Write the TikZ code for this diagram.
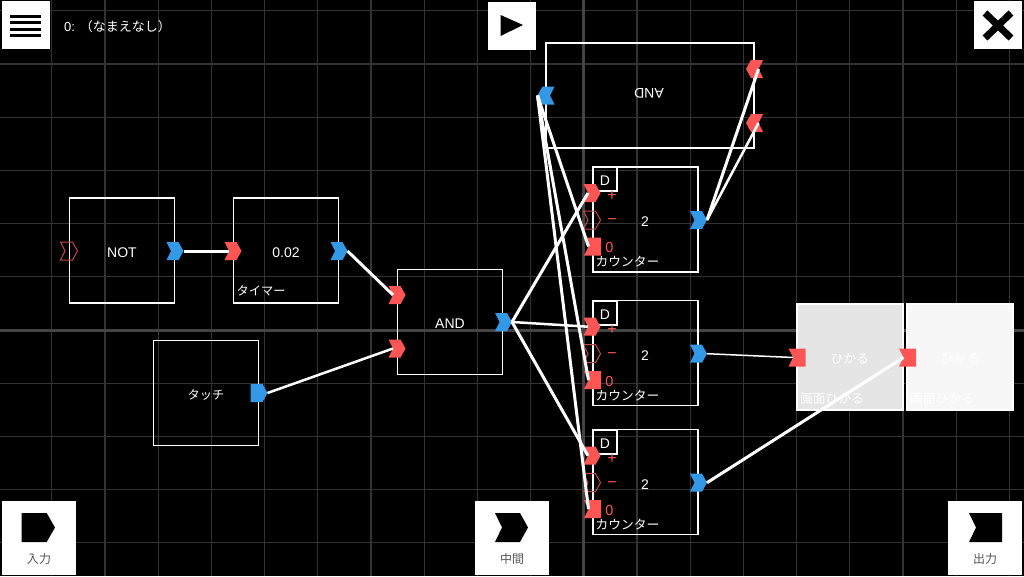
\documentclass[tikz,border=0pt]{standalone}
\usepackage{fontspec}
\setmainfont{Liberation Sans}
\newfontfamily\cjk{Noto Sans CJK JP}
\usetikzlibrary{positioning}
\definecolor{mred}{HTML}{FF5555}
\definecolor{mblue}{HTML}{3399E6}
\definecolor{mdim}{HTML}{C44848}
\definecolor{mgrid}{HTML}{333333}
\definecolor{mgridb}{HTML}{444444}
\definecolor{mtext}{HTML}{555555}
\tikzset{
  block/.style = {draw=white, line width=1.8, minimum size=105, inner sep=0, text=white, text height=13, text depth=0, font=\fontsize{14}{16}\selectfont},
  lbl/.style = {text=white, inner sep=0, font=\fontsize{12.7}{15}\selectfont\cjk},
  sign/.style = {text=mred, inner sep=0, font=\fontsize{16}{18}\selectfont},
  btn/.style = {fill=white, minimum size=48, inner sep=0},
  btnlbl/.style = {text=mtext, inner sep=0, font=\fontsize{12}{14}\selectfont\cjk},
  wire/.style = {white, line width=3},
  chevron/.pic = {\path[pic actions] (-8.5,-9) -- (3.5,-9) -- (8.5,0) -- (3.5,9) -- (-8.5,9) -- (-4,0) -- cycle;
    \coordinate (-in) at (-4,0); \coordinate (-out) at (8.5,0);},
  notched/.pic = {\path[pic actions] (-8.5,-9) -- (8.5,-9) -- (8.5,9) -- (-8.5,9) -- (-4,0) -- cycle;
    \coordinate (-in) at (-4,0);},
  pointed/.pic = {\path[pic actions] (-8.5,-9) -- (3.5,-9) -- (8.5,0) -- (3.5,9) -- (-8.5,9) -- cycle;
    \coordinate (-out) at (8.5,0);},
}

\begin{document}
\begin{tikzpicture}[x=1pt, y=-1pt]
  \useasboundingbox (0,0) rectangle (1024,576);
  \fill[black] (0,0) rectangle (1024,576);

  % grid
  \foreach \i in {0,...,18}
    \draw[mgrid, line width=1.2] ({51.7+53.2*\i},0) -- ({51.7+53.2*\i},576);
  \foreach \i in {0,...,10}
    \draw[mgrid, line width=1.2] (0,{10.7+53.2*\i}) -- (1024,{10.7+53.2*\i});
  \draw[mgridb, line width=3] (583.7,0) -- (583.7,576);
  \draw[mgridb, line width=3] (0,330) -- (1024,330);

  % blocks
  \node[block] (notblock) at (122,250.5) {NOT};
  \node[block] (timerblock) at (286,250.5) {0.02};
  \node[lbl, anchor=west, font=\fontsize{12.2}{15}\selectfont\cjk] (timerlabel) at (236.5,291) {タイマー};
  \node[block, font=\fontsize{12.2}{15}\selectfont\cjk] (touchblock) at (206,393) {タッチ};
  \node[block] (andblock) at (450,322) {AND};
  \node[block, minimum width=208, minimum height=104.5] (flipblock) at (650,95.5) {};
  \node[lbl, rotate=180, font=\fontsize{14}{16}\selectfont] (fliplabel) at (649,93) {AND};

  % counters
  \foreach \n/\t in {a/167, b/300.7, c/429.7} {
    \node[block] (count\n) at (645.5,\t+52.3) {};
    \node[block, minimum size=24] (dbox\n) at (604.8,\t+12) {D};
    \node[lbl, font=\fontsize{14}{16}\selectfont] (value\n) at (645,\t+54.5) {2};
    \node[sign] (plus\n) at (612,\t+29) {+};
    \node[sign] (minus\n) at (612,\t+55) {−};
    \node[sign, font=\fontsize{14.5}{17}\selectfont] (zero\n) at (609.5,\t+81) {0};
    \node[lbl, anchor=west] (countlabel\n) at (595.5,\t+95) {カウンター};
    \pic[fill=mred] (pin\n) at (592,\t+26) {chevron};
    \pic[draw=mdim, line width=1] (min\n) at (592,\t+53) {chevron};
    \pic[fill=mred] (zin\n) at (592.5,\t+79.5) {notched};
    \pic[fill=mblue] (cout\n) at (698.5,\t+53) {chevron};
  }

  % screen blocks
  \node[block, fill=black!10, minimum size=106, font=\fontsize{12.7}{15}\selectfont\cjk] (lighta) at (850,357) {ひかる};
  \node[block, fill=black!3, minimum size=106, font=\fontsize{12.7}{15}\selectfont\cjk] (lightb) at (960,357) {ひかる};
  \node[lbl, anchor=west] (lightlabela) at (800,399) {画面ひかる};
  \node[lbl, anchor=west] (lightlabelb) at (910,399) {画面ひかる};

  % ports
  \pic[draw=mdim, line width=1] (notin) at (69,251) {chevron};
  \pic[fill=mblue] (notout) at (175,251) {chevron};
  \pic[fill=mred] (timerin) at (233,251) {chevron};
  \pic[fill=mblue] (timerout) at (339,251) {chevron};
  \pic[fill=mblue] (touchout) at (259,393) {pointed};
  \pic[fill=mred] (andina) at (397,295) {chevron};
  \pic[fill=mred] (andinb) at (397,348.5) {chevron};
  \pic[fill=mblue] (andout) at (503.5,322) {chevron};
  \pic[fill=mblue, rotate=180] (flipout) at (546,95.5) {chevron};
  \pic[fill=mred, rotate=180] (flipina) at (754.5,69) {chevron};
  \pic[fill=mred, rotate=180] (flipinb) at (754.5,123) {chevron};
  \pic[fill=mred] (lightina) at (797,357.5) {notched};
  \pic[fill=mred] (lightinb) at (907.5,357.5) {notched};

  % wires
  \draw[wire] (notout-out) -- (timerin-in);
  \draw[wire] (timerout-out) -- (andina-in);
  \draw[wire, line width=2.5] (touchout-out) -- (andinb-in);
  \draw[wire] (andout-out) -- (pina-in);
  \draw[wire, line width=2.5] (andout-out) -- (pinb-in);
  \draw[wire] (andout-out) -- (pinc-in);
  \draw[wire] (flipout-out) -- (zina-in);
  \draw[wire] (flipout-out) -- (zinb-in);
  \draw[wire] (flipout-out) -- (zinc-in);
  \draw[wire] (couta-out) -- (flipina-in);
  \draw[wire, line width=2.5] (couta-out) -- (flipinb-in);
  \draw[wire, line width=1.5] (coutb-out) -- (lightina-in);
  \draw[wire] (coutc-out) -- (lightinb-in);

  % top buttons
  \node[btn] (menubtn) at (25.5,25) {};
  \foreach \y in {16,22.5,29,35}
    \draw[black, line width=3] (10,\y) -- (41,\y);
  \node[lbl, anchor=west, font=\fontsize{13}{15}\selectfont] (title) at (64,27) {0: {\cjk （なまえなし）}};
  \node[btn] (playbtn) at (512,25.5) {};
  \fill[black] (500.5,15) -- (523,25) -- (500.5,36) -- cycle;
  \node[btn] (closebtn) at (998,25) {};
  \draw[black, line width=7] (985,13) -- (1011,38);
  \draw[black, line width=7] (1011,13) -- (985,38);

  % bottom buttons
  \node[btn, minimum size=74] (inbtn) at (38.5,537.5) {};
  \fill[black] (21.7,513) -- (46.7,513) -- (55,527.5) -- (46.7,542) -- (21.7,542) -- cycle;
  \node[btnlbl] (inlabel) at (39,559) {入力};
  \node[btn, minimum size=74] (midbtn) at (512,537.5) {};
  \fill[black] (495,513) -- (520,513) -- (528,527.5) -- (520,542) -- (495,542) -- (502,527.5) -- cycle;
  \node[btnlbl] (midlabel) at (512,559) {中間};
  \node[btn, minimum size=74] (outbtn) at (985,537.5) {};
  \fill[black] (969,513) -- (1002,513) -- (1002,542) -- (969,542) -- (976,527.5) -- cycle;
  \node[btnlbl] (outlabel) at (985,559) {出力};
\end{tikzpicture}
\end{document}
